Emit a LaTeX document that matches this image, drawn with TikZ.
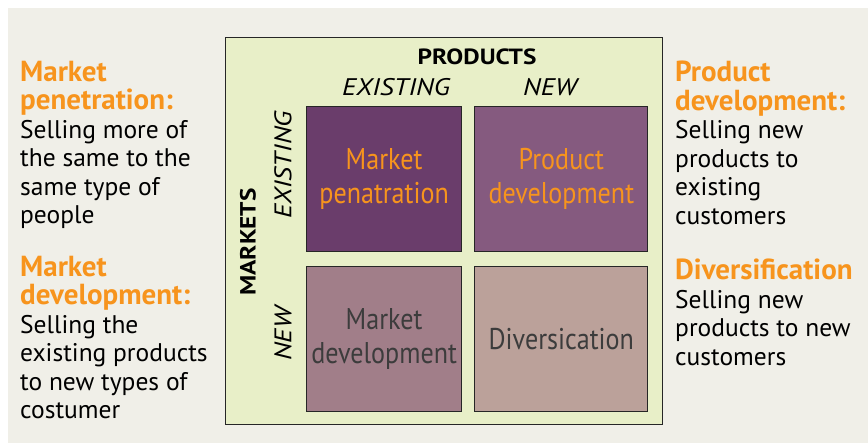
\documentclass[tikz,border=0pt]{standalone}
\usepackage{fontspec}
\setmainfont{PT Sans}
\newfontfamily\condfont[FakeStretch=0.87]{PT Sans}
\newfontfamily\widefont[FakeStretch=1.15]{PT Sans}
\usepackage{xcolor}
\usetikzlibrary{positioning,calc}

\definecolor{bgbeige}{HTML}{F0EFE8}
\definecolor{boxgreen}{HTML}{E8EFC8}
\definecolor{mporange}{HTML}{F7941D}
\definecolor{cellA}{HTML}{6A3D6B}
\definecolor{cellB}{HTML}{855A7F}
\definecolor{cellC}{HTML}{A17E89}
\definecolor{cellD}{HTML}{BBA19A}
\definecolor{darktext}{HTML}{3C3C3C}

\newcommand{\hl}[1]{{\color{mporange}\bfseries\fontsize{29}{28.5}\selectfont #1}}

\tikzset{
	cell/.style={draw=black!85, line width=1.2pt, minimum width=155pt, minimum height=145pt, inner sep=0pt, align=center, font=\condfont\fontsize{30}{34}\selectfont},
	sidetxt/.style={anchor=north west, inner sep=0pt, align=left, font=\fontsize{25.5}{28.5}\selectfont},
	axistxt/.style={inner sep=0pt, font=\widefont\itshape\fontsize{24}{26}\selectfont},
	headtxt/.style={inner sep=0pt, font=\widefont\bfseries\fontsize{22}{24}\selectfont}
}

\begin{document}
\begin{tikzpicture}[x=1pt,y=-1pt]
	\useasboundingbox (0,0) rectangle (868,443);
	\fill[bgbeige] (8,8) rectangle (868,443);
	
	\node[draw=black!85, line width=1.4pt, fill=boxgreen, minimum width=437pt, minimum height=387pt, anchor=north west, inner sep=0pt] (frame) at (225,37) {};
	
	% the four cells
	\node[cell, fill=cellA, text=mporange, anchor=north west] (mp) at (306,106) {Market\\penatration};
	\node[cell, fill=cellB, text=mporange, minimum width=173pt, right=12pt of mp] (pd) {Product\\development};
	\node[cell, fill=cellC, text=darktext, below=14pt of mp] (md) {Market\\development};
	\node[cell, fill=cellD, text=darktext, minimum width=173pt, below=14pt of pd] (dv) {Diversication};
	
	% axis labels
	\node[headtxt] (prod) at (477,57) {PRODUCTS};
	\node[axistxt] (pExist) at (396,87) {EXISTING};
	\node[axistxt] (pNew) at (550,87) {NEW};
	\node[headtxt, rotate=90] (mkt) at (248,242) {MARKETS};
	\node[axistxt, rotate=90] (mExist) at (283,165) {EXISTING};
	\node[axistxt, rotate=90] (mNew) at (283,334) {NEW};
	
	% side texts
	\node[sidetxt] (mpText) at (20,61) {\hl{Market}\\\hl{penetration:}\\Selling more of\\the same to the\\same type of\\people};
	\node[sidetxt] (mdText) at (20,256) {\hl{Market}\\\hl{development:}\\Selling the\\existing products\\to new types of\\costumer};
	\node[sidetxt] (pdText) at (675,61) {\hl{Product}\\\hl{development:}\\Selling new\\products to\\existing\\customers};
	\node[sidetxt] (dvText) at (675,259) {\hl{Diversification}\\Selling new\\products to new\\customers};
\end{tikzpicture}
\end{document}
